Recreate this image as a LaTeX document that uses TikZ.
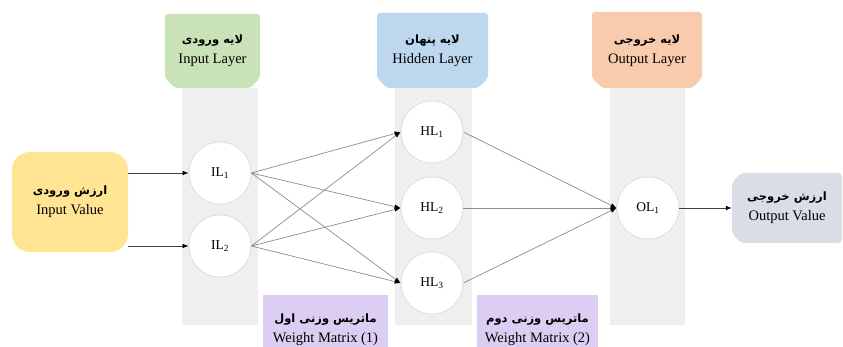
\documentclass[tikz,border=0pt]{standalone}
\usepackage{fontspec}
\setmainfont{Liberation Serif}
\newfontfamily\fa[Script=Arabic]{DejaVu Sans}
\TeXXeTstate=1
\usetikzlibrary{arrows.meta}
\definecolor{colgray}{HTML}{EFEFEF}
\definecolor{hgreen}{HTML}{C9E2B8}
\definecolor{hblue}{HTML}{BDD7EE}
\definecolor{horange}{HTML}{F8CBAD}
\definecolor{ivyellow}{HTML}{FFE493}
\definecolor{ovgray}{HTML}{D8DDE6}
\definecolor{wlav}{HTML}{DCCDF2}
\definecolor{edgegray}{HTML}{8C8C8C}
\definecolor{circborder}{HTML}{DEDEDE}
\newcommand{\fatext}[1]{{\fa\bfseries\fontsize{11.5}{13}\selectfont\beginR #1\endR}}
\begin{document}
\begin{tikzpicture}[x=1pt,y=-1pt,
  neuron/.style={circle, fill=white, draw=circborder, line width=0.8pt, minimum size=62pt, inner sep=0pt, font=\fontsize{13.5}{15}\selectfont},
  txt/.style={align=center, font=\fontsize{14.5}{20}\selectfont, inner sep=0pt},
  conn/.style={draw=edgegray, line width=0.7pt, -{Latex[length=6pt,width=4.5pt,black]}},
  inconn/.style={draw=black!75, line width=0.7pt, -{Latex[length=6pt,width=4.5pt,black]}}
]
\useasboundingbox (0,0) rectangle (843,347);
% columns
\fill[colgray] (182,88) rectangle (258,325);
\fill[colgray] (395,88) rectangle (472,325);
\fill[colgray] (610,88) rectangle (685,325);
% headers
\fill[hgreen, rounded corners=3pt] (165,14) -- (260,14) -- (260,78) -- (250,88) -- (175,88) -- (165,78) -- cycle;
\fill[hblue, rounded corners=3pt] (377,13) -- (488,13) -- (488,78) -- (478,88) -- (387,88) -- (377,78) -- cycle;
\fill[horange, rounded corners=3pt] (592,12) -- (702,12) -- (702,78) -- (692,88) -- (602,88) -- (592,78) -- cycle;
\node[txt] (hIn) at (212.5,51) {\fatext{لایه ورودی}\\Input Layer};
\node[txt] (hHid) at (432.5,51) {\fatext{لایه پنهان}\\Hidden Layer};
\node[txt] (hOut) at (647,51) {\fatext{لایه خروجی}\\Output Layer};
% input / output value
\node[txt, fill=ivyellow, rounded corners=18pt, minimum width=116pt, minimum height=100pt] (IV) at (70,202) {\fatext{ارزش ورودی}\\Input Value};
\fill[ovgray, rounded corners=4pt] (741,173) -- (842,173) -- (842,243) -- (741,243) -- (732,234) -- (732,182) -- cycle;
\node[txt, minimum width=110pt, minimum height=70pt] (OV) at (787,208) {\fatext{ارزش خروجی}\\Output Value};
% weight matrices
\node[txt, fill=wlav, minimum width=125pt, minimum height=70pt] (W1) at (325.5,330) {\fatext{ماتریس وزنی اول}\\Weight Matrix (1)};
\node[txt, fill=wlav, minimum width=121pt, minimum height=70pt] (W2) at (537.5,330) {\fatext{ماتریس وزنی دوم}\\Weight Matrix (2)};
% neurons
\node[neuron] (IL1) at (220,173) {IL\textsubscript{1}};
\node[neuron] (IL2) at (220,246) {IL\textsubscript{2}};
\node[neuron] (HL1) at (432,132) {HL\textsubscript{1}};
\node[neuron] (HL2) at (432,208) {HL\textsubscript{2}};
\node[neuron] (HL3) at (432,283) {HL\textsubscript{3}};
\node[neuron] (OL1) at (648,208) {OL\textsubscript{1}};
% connectors
\draw[inconn] (IV.east |- IL1) -- (IL1.west);
\draw[inconn] (IV.east |- IL2) -- (IL2.west);
\foreach \s in {IL1,IL2}{
  \foreach \t in {HL1,HL2,HL3}{
    \draw[conn] (\s.east) -- (\t.west);
  }
}
\foreach \s in {HL1,HL2,HL3}{
  \draw[conn] (\s.east) -- (OL1.west);
}
\draw[inconn] (OL1.east) -- (OV.west);
\end{tikzpicture}
\end{document}
